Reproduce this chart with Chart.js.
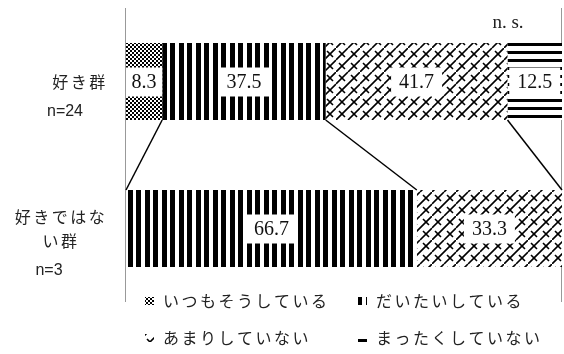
<!DOCTYPE html>
<html>
<head>
<meta charset="utf-8">
<script src="https://cdn.jsdelivr.net/npm/chart.js@4"></script>
<style>
  html, body { margin: 0; padding: 0; background: #fff; }
  #wrap { width: 564px; height: 354px; position: relative; }
</style>
</head>
<body>
<div id="wrap"><canvas id="chart"></canvas></div>
<script>
// --- data ---
const categories = [['好き群'], ['好きではな', 'い群']];
const sampleSizes = ['n=24', 'n=3'];
const responses = ['いつもそうしている', 'だいたいしている', 'あまりしていない', 'まったくしていない'];
const alwaysValues = [8.3, 0];
const mostlyValues = [37.5, 66.7];
const rarelyValues = [41.7, 33.3];
const neverValues = [12.5, 0];
const significance = 'n. s.';

// --- patterns ---
function makeTile(w, h, draw) {
    const c = document.createElement('canvas');
    c.width = w; c.height = h;
    const g = c.getContext('2d');
    g.fillStyle = '#fff';
    g.fillRect(0, 0, w, h);
    g.fillStyle = '#000';
    g.strokeStyle = '#000';
    draw(g);
    return g.createPattern(c, 'repeat');
}

const checkerPattern = makeTile(4, 4, g => {
    g.fillRect(0, 0, 2, 2);
    g.fillRect(2, 2, 2, 2);
});
const vStripePattern = makeTile(17, 4, g => {
    g.fillRect(0, 0, 5, 4);
    g.fillRect(9, 0, 5, 4);
});
const hStripePattern = makeTile(4, 8, g => {
    g.fillRect(0, 3, 4, 3);
});
const brickPattern = makeTile(24, 24, g => {
    g.lineWidth = 1.6;
    g.beginPath();
    g.moveTo(0, 12); g.lineTo(12, 0);
    g.moveTo(0, 24); g.lineTo(24, 0);
    g.moveTo(12, 24); g.lineTo(24, 12);
    g.stroke();
    g.beginPath();
    g.moveTo(3, 3); g.lineTo(9, 9);
    g.moveTo(15, 15); g.lineTo(21, 21);
    g.moveTo(15, 3); g.lineTo(21, 9);
    g.moveTo(3, 15); g.lineTo(9, 21);
    g.stroke();
});
const patterns = [checkerPattern, vStripePattern, brickPattern, hStripePattern];
const seriesValues = [alwaysValues, mostlyValues, rarelyValues, neverValues];

// --- custom drawing: axis lines, connectors, labels, legend ---
const decorPlugin = {
    id: 'decor',
    beforeDatasetsDraw(chart) {
        const { ctx, chartArea: a } = chart;
        ctx.save();
        ctx.strokeStyle = '#999';
        ctx.lineWidth = 1;
        ctx.beginPath();
        ctx.moveTo(a.left - 0.5, a.top); ctx.lineTo(a.left - 0.5, a.bottom);
        ctx.moveTo(a.right - 0.5, a.top); ctx.lineTo(a.right - 0.5, a.bottom);
        ctx.stroke();
        ctx.restore();
    },
    afterDatasetsDraw(chart) {
        const { ctx } = chart;
        const xs = chart.scales.x;
        ctx.save();

        // connector lines between the two bars
        const top = chart.getDatasetMeta(0).data;
        const b1 = top[0].y + top[0].height / 2;
        const b2 = top[1].y - top[1].height / 2;
        ctx.strokeStyle = '#000';
        ctx.lineWidth = 1.5;
        let c1 = 0, c2 = 0;
        for (let i = 0; i < seriesValues.length - 1; i++) {
            c1 += seriesValues[i][0];
            c2 += seriesValues[i][1];
            ctx.beginPath();
            ctx.moveTo(xs.getPixelForValue(c1), b1);
            ctx.lineTo(xs.getPixelForValue(c2), b2);
            ctx.stroke();
        }

        // value labels in white boxes
        ctx.font = '20px "Liberation Serif", serif';
        ctx.textAlign = 'center';
        ctx.textBaseline = 'middle';
        chart.data.datasets.forEach((ds, di) => {
            chart.getDatasetMeta(di).data.forEach((el, i) => {
                const v = ds.data[i];
                if (!v) return;
                const txt = v.toFixed(1);
                const left = Math.min(el.base, el.x), right = Math.max(el.base, el.x);
                const cx = (left + right) / 2;
                const w = ctx.measureText(txt).width + 16;
                const bl = Math.max(left, cx - w / 2), br = Math.min(right, cx + w / 2);
                ctx.fillStyle = '#fff';
                ctx.fillRect(bl, el.y - 14, br - bl, 29);
                ctx.fillStyle = '#111';
                ctx.fillText(txt, cx, el.y + 1);
            });
        });

        // category labels
        const ys = chart.scales.y;
        const labelX = [80, 61];
        const nX = [65, 49];
        categories.forEach((lines, i) => {
            const cy = ys.getPixelForValue(i);
            let y = cy - (lines.length - 1) * 12;
            ctx.font = '16px "Noto Sans CJK JP", sans-serif';
            ctx.letterSpacing = '2.5px';
            ctx.fillStyle = '#222';
            lines.forEach((ln, k) => {
                ctx.fillText(ln, labelX[i], y + k * 24);
            });
            ctx.letterSpacing = '0px';
            ctx.font = '16px "Liberation Sans", Arial, sans-serif';
            ctx.fillText(sampleSizes[i], nX[i], y + (lines.length - 1) * 24 + 30);
        });

        // significance note
        ctx.font = '19px "Liberation Serif", serif';
        ctx.fillStyle = '#222';
        ctx.fillText(significance, 508, 23);

        // legend
        const legendPos = [[145, 301], [358, 301], [145, 338], [358, 338]];
        ctx.textAlign = 'left';
        ctx.font = '16px "Noto Sans CJK JP", sans-serif';
        ctx.letterSpacing = '2.5px';
        responses.forEach((r, i) => {
            const [lx, ly] = legendPos[i];
            ctx.fillStyle = patterns[i];
            ctx.fillRect(lx, ly - 4, 9, 8);
            ctx.fillStyle = '#222';
            ctx.fillText(r, lx + 18, ly);
        });
        ctx.restore();
    }
};

new Chart(document.getElementById('chart'), {
    type: 'bar',
    data: {
        labels: categories.map(c => c.join('')),
        datasets: responses.map((r, i) => ({
            label: r,
            data: seriesValues[i],
            backgroundColor: patterns[i],
            borderWidth: 0,
            categoryPercentage: 1,
            barPercentage: 0.524
        }))
    },
    options: {
        indexAxis: 'y',
        responsive: true,
        maintainAspectRatio: false,
        animation: false,
        layout: { padding: { left: 126, right: 2, top: 8, bottom: 52 } },
        plugins: {
            legend: { display: false },
            tooltip: { enabled: false }
        },
        scales: {
            x: { stacked: true, min: 0, max: 100, display: false },
            y: { stacked: true, display: false }
        }
    },
    plugins: [decorPlugin]
});
</script>
</body>
</html>
